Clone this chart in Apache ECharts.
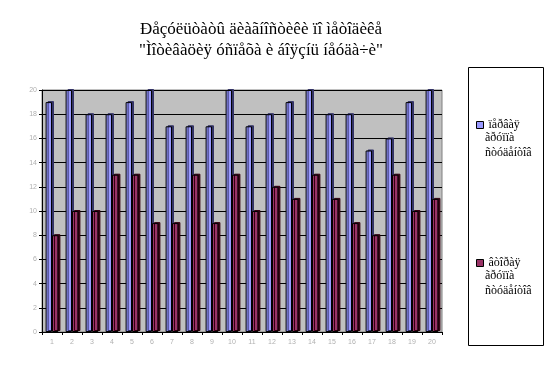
<!DOCTYPE html>
<html><head><meta charset="utf-8">
<script src="https://cdn.jsdelivr.net/npm/echarts@6/dist/echarts.min.js"></script>
<style>html,body{margin:0;padding:0;background:#fff}#c{width:555px;height:367px}</style>
</head><body><div id="c"></div>
<script>
var categories = ['1','2','3','4','5','6','7','8','9','10','11','12','13','14','15','16','17','18','19','20'];
var group1 = [19,20,18,18,19,20,17,17,17,20,17,18,19,20,18,18,15,16,19,20];
var group2 = [8,10,10,13,13,9,9,13,9,13,10,12,11,13,11,9,8,13,10,11];
var seriesNames = ['ïåðâàÿ ãðóïïà ñòóäåíòîâ', 'âòîðàÿ ãðóïïà ñòóäåíòîâ'];
var titleText = 'Ðåçóëüòàòû äèàãíîñòèêè ïî ìåòîäèêå\n"Ìîòèâàöèÿ óñïåõà è áîÿçíü íåóäà÷è"';

var legendFont = {fontFamily:'Liberation Serif', fontSize:12, color:'#000'};
function firstWord(n){ return n.split(' ')[0]; }
function restWords(n){ return n.split(' ').slice(1).join('\n'); }

var chart = echarts.init(document.getElementById('c'), null, {renderer:'canvas'});
chart.setOption({
  animation:false,
  backgroundColor:'#fff',
  title:{text:titleText, left:256, textAlign:'center', top:14,
    textStyle:{fontFamily:'Liberation Serif', fontSize:17, fontWeight:'normal', color:'#000', lineHeight:21}},
  graphic:[
    {type:'rect', shape:{x:468.5, y:67.5, width:75, height:278}, style:{fill:'#fff', stroke:'#000', lineWidth:1}, z:-1},
    {type:'text', left:485, top:130, style:Object.assign({text:restWords(seriesNames[0]), lineHeight:15}, legendFont)},
    {type:'text', left:485, top:268, style:Object.assign({text:restWords(seriesNames[1]), lineHeight:15}, legendFont)}
  ],
  legend:[
    {left:476, top:119, padding:0, itemWidth:7, itemHeight:7, icon:'rect', itemGap:0,
     itemStyle:{borderColor:'#000', borderWidth:1}, textStyle:legendFont,
     formatter:firstWord, data:[seriesNames[0]]},
    {left:476, top:257, padding:0, itemWidth:7, itemHeight:7, icon:'rect', itemGap:0,
     itemStyle:{borderColor:'#000', borderWidth:1}, textStyle:legendFont,
     formatter:firstWord, data:[seriesNames[1]]}
  ],
  grid:{left:42, right:113, top:90, bottom:35, show:true, backgroundColor:'#c0c0c0', borderColor:'#808080', borderWidth:1},
  xAxis:{type:'category', data:categories,
    axisLine:{lineStyle:{color:'#000'}}, axisTick:{show:true, length:3, lineStyle:{color:'#000'}},
    axisLabel:{fontSize:7, color:'#b0b0b0', fontFamily:'Liberation Sans', margin:7}},
  yAxis:{type:'value', min:0, max:20, interval:2,
    axisLine:{show:true, lineStyle:{color:'#000'}}, axisTick:{show:true, length:3, lineStyle:{color:'#000'}},
    axisLabel:{fontSize:7, color:'#b0b0b0', fontFamily:'Liberation Sans', margin:5},
    splitLine:{lineStyle:{color:'#000', width:1}}},
  series:[
    {name:seriesNames[0], type:'bar', data:group1, barGap:'0%', barCategoryGap:'36%',
     itemStyle:{color:'#9999ff', borderColor:'#000', borderWidth:1, shadowColor:'#333366', shadowOffsetX:2, shadowOffsetY:-1}},
    {name:seriesNames[1], type:'bar', data:group2, barGap:'0%', barCategoryGap:'36%',
     itemStyle:{color:'#993366', borderColor:'#000', borderWidth:1, shadowColor:'#330011', shadowOffsetX:2, shadowOffsetY:-1}}
  ]
});
</script></body></html>
